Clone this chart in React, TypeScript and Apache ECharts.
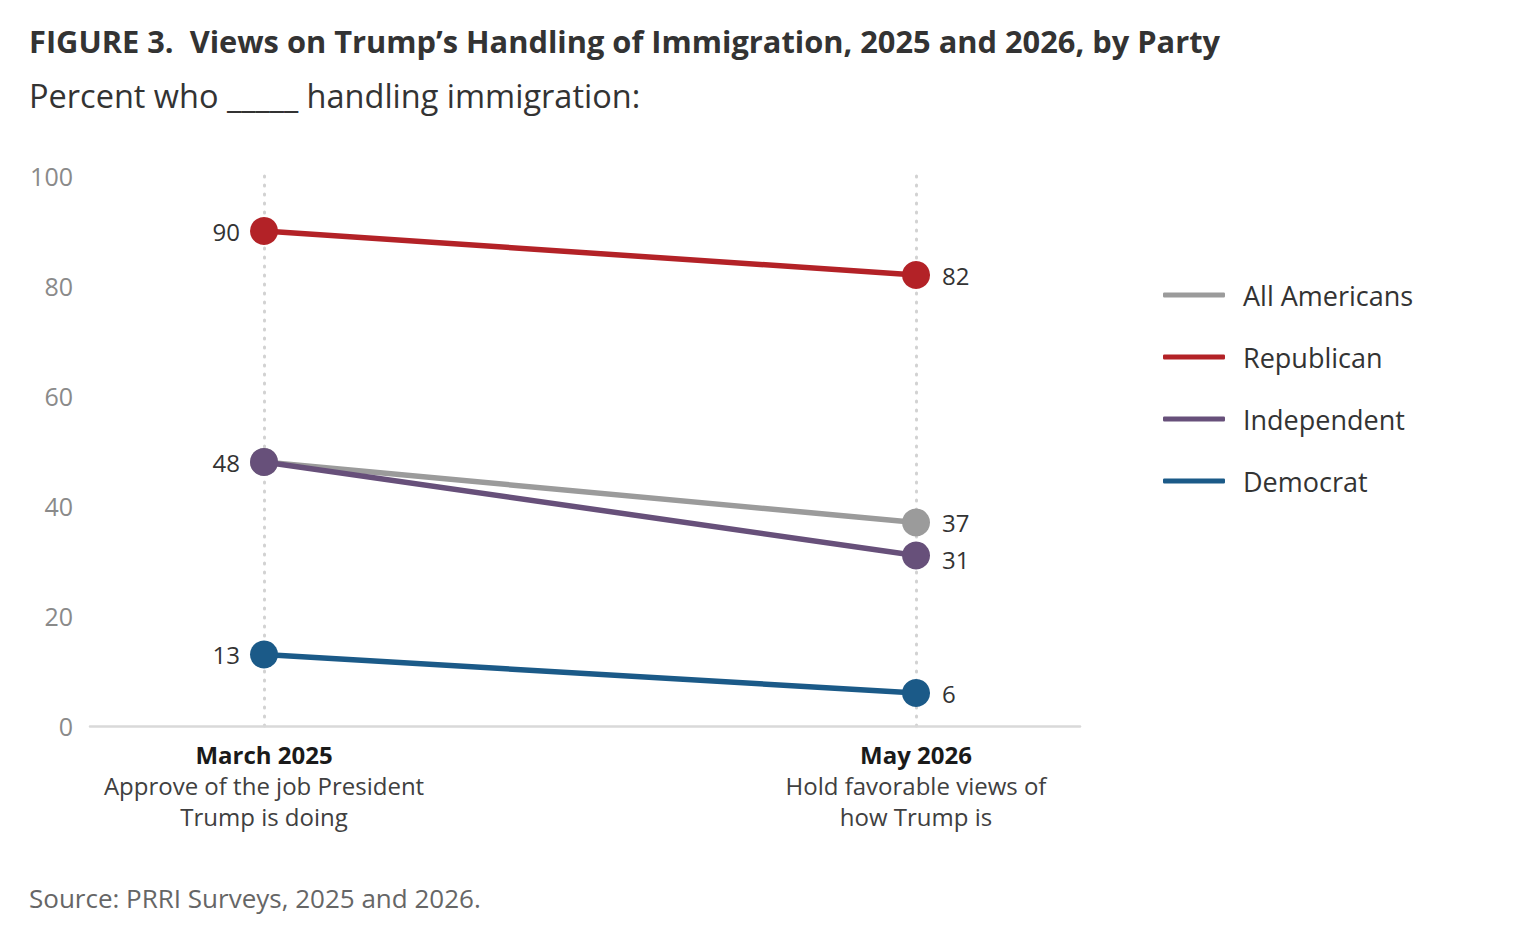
import React, { useEffect, useRef } from "react";
import * as echarts from "echarts";

const periods = ["March 2025", "May 2026"];
const periodNotes = [
  ["Approve of the job President", "Trump is doing"],
  ["Hold favorable views of", "how Trump is"],
];
const seriesNames = ["All Americans", "Republican", "Independent", "Democrat"];
const allAmericans = [48, 37];
const republican = [90, 82];
const independent = [48, 31];
const democrat = [13, 6];
const colors = ["#9b9b9b", "#b32227", "#67507a", "#1b5a88"];
const yTicks = [0, 20, 40, 60, 80, 100];

const FONT = "'Open Sans', 'Noto Sans', sans-serif";

export default function App() {
  const ref = useRef<HTMLDivElement>(null);
  useEffect(() => {
    if (!ref.current) return;
    const chart = echarts.init(ref.current, undefined, { renderer: "svg" });
    const values = [allAmericans, republican, independent, democrat];
    const series = seriesNames.map((name, si) => ({
      name,
      type: "line",
      symbol: "circle",
      symbolSize: 28,
      lineStyle: { width: 5.5, color: colors[si] },
      itemStyle: { color: colors[si] },
      label: {
        show: true,
        fontFamily: FONT,
        fontSize: 24,
        color: "#333",
        formatter: (p: any) => String(p.value[1]),
      },
      z: 2 + si,
      data: values[si].map((v, i) => ({
        value: [i, v],
        label: {
          show: !(si === 0 && i === 0),
          position: i === 0 ? "left" : "right",
          distance: i === 0 ? 10 : 12,
          offset: i === 1 && si === 2 ? [0, 4] : [0, 0],
        },
      })),
    }));

    chart.setOption({
      animation: false,
      backgroundColor: "#ffffff",
      textStyle: { fontFamily: FONT },
      title: [
        {
          text: "FIGURE 3.  Views on Trump\u2019s Handling of Immigration, 2025 and 2026, by Party",
          left: 24,
          top: 17,
          textStyle: { fontFamily: FONT, fontSize: 30.8, fontWeight: "bold", color: "#333", lineHeight: 38 },
        },
        {
          text: "Percent who _____ handling immigration:",
          left: 24,
          top: 69,
          textStyle: { fontFamily: FONT, fontSize: 32.5, fontWeight: "normal", color: "#333", lineHeight: 42 },
        },
        {
          text: "Source: PRRI Surveys, 2025 and 2026.",
          left: 24,
          top: 878,
          textStyle: { fontFamily: FONT, fontSize: 26, fontWeight: "normal", color: "#666", lineHeight: 30 },
        },
      ],
      legend: {
        orient: "vertical",
        left: 1158,
        top: 274,
        itemWidth: 62,
        itemHeight: 5,
        itemGap: 30,
        icon: "roundRect",
        data: seriesNames,
        textStyle: { fontFamily: FONT, fontSize: 27, color: "#333", lineHeight: 32, padding: [0, 0, 0, 13] },
      },
      grid: { left: 90, right: 456, top: 176, bottom: 210, containLabel: false },
      xAxis: {
        type: "value",
        min: -0.2669,
        max: 1.2515,
        minInterval: 1,
        axisLine: { show: true, lineStyle: { color: "#d9d9d9", width: 2.5 } },
        axisTick: { show: false },
        splitLine: {
          show: true,
          showMinLine: false,
          showMaxLine: false,
          lineStyle: { color: "#d2d2d2", type: [1, 8], cap: "round", width: 3 },
        },
        axisLabel: {
          show: true,
          showMinLabel: false,
          showMaxLabel: false,
          margin: 12,
          formatter: (v: number) => {
            const i = Math.round(v);
            if (Math.abs(v - i) > 1e-6 || i < 0 || i >= periods.length) return "";
            return `{b|${periods[i]}}\n` + periodNotes[i].map((t) => `{n|${t}}`).join("\n");
          },
          rich: {
            b: { fontFamily: FONT, fontSize: 24, fontWeight: "bold", color: "#1a1a1a", lineHeight: 32, align: "center" },
            n: { fontFamily: FONT, fontSize: 24, color: "#404040", lineHeight: 31, align: "center" },
          },
        },
      },
      yAxis: {
        type: "value",
        min: yTicks[0],
        max: yTicks[yTicks.length - 1],
        interval: 20,
        axisLine: { show: false },
        axisTick: { show: false },
        splitLine: { show: false },
        axisLabel: { fontFamily: FONT, fontSize: 25, color: "#8a8a8a", margin: 17 },
      },
      series,
    });
    return () => chart.dispose();
  }, []);
  return (
    <div
      ref={ref}
      style={{ position: "absolute", left: 0, top: 0, width: 1536, height: 936, background: "#fff" }}
    />
  );
}
